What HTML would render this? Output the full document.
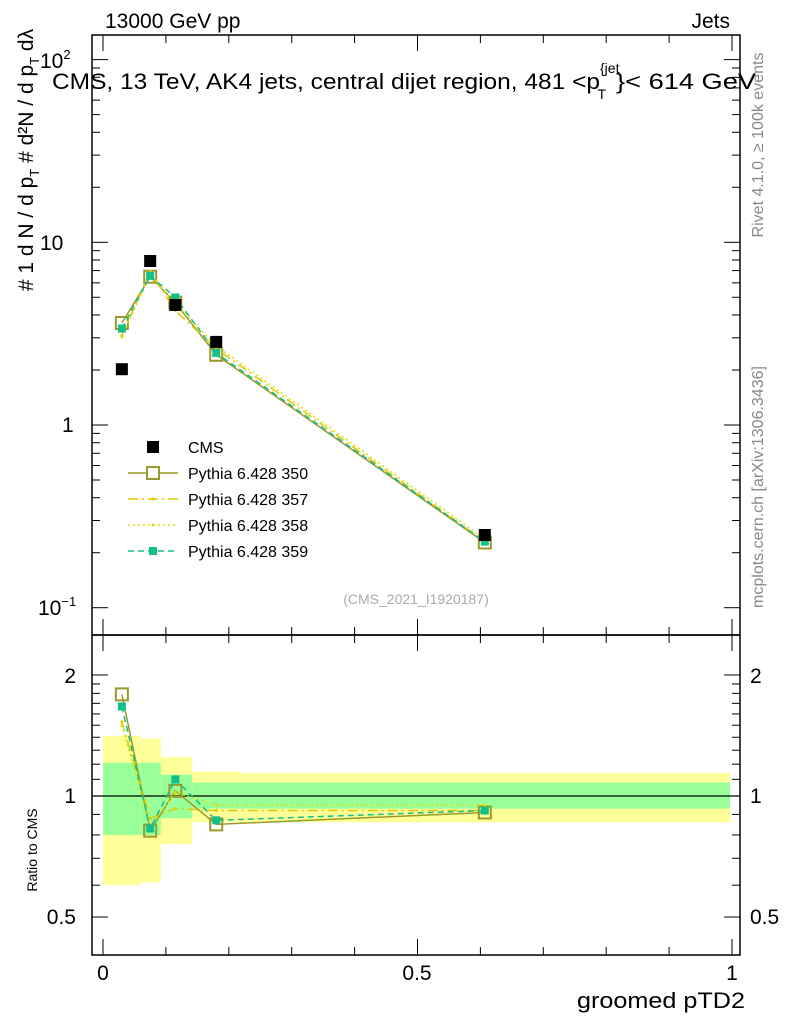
<!DOCTYPE html>
<html><head><meta charset="utf-8"><style>
body{margin:0;background:#fff;}
svg{font-family:"Liberation Sans",sans-serif;}
</style></head><body>
<svg id="c" width="786" height="1024" viewBox="0 0 786 1024" xmlns="http://www.w3.org/2000/svg">
<text x="105" y="28" font-size="21">13000 GeV pp</text>
<text x="730" y="28" font-size="21" text-anchor="end">Jets</text>
<text x="52" y="89" font-size="22"><tspan textLength="548" lengthAdjust="spacingAndGlyphs">CMS, 13 TeV, AK4 jets, central dijet region, 481 &lt;p</tspan><tspan font-size="14" dy="-16">{jet</tspan><tspan font-size="14" dx="-22" dy="26">T</tspan><tspan dy="-10" dx="10" textLength="140" lengthAdjust="spacingAndGlyphs">}&lt; 614 GeV</tspan></text>
<g id="bands"></g>
<rect x="92" y="35" width="648" height="600" fill="none" stroke="#000" stroke-width="1.5"/>
<rect x="92" y="635" width="648" height="320" fill="none" stroke="#000" stroke-width="1.5"/>
<g id="ticks"></g>
<g id="series"></g>
<text x="750" y="803" font-size="21">1</text>
<text x="750" y="683" font-size="21">2</text>
<text x="750" y="924" font-size="21">0.5</text>
<text x="76" y="683" font-size="21" text-anchor="end">2</text>
<text x="76" y="803" font-size="21" text-anchor="end">1</text>
<text x="76" y="924" font-size="21" text-anchor="end">0.5</text>
<text x="40" y="250" font-size="21">10</text>
<text x="62" y="432" font-size="21">1</text>
<text x="38" y="615" font-size="21">10<tspan font-size="13" dy="-9">−1</tspan></text>
<text x="40" y="68" font-size="21">10<tspan font-size="13" dy="-9">2</tspan></text>
<text x="103" y="980" font-size="21" text-anchor="middle">0</text>
<text x="417" y="980" font-size="21" text-anchor="middle">0.5</text>
<text x="732" y="980" font-size="21" text-anchor="middle">1</text>
<text x="745" y="1008" font-size="22" text-anchor="end" textLength="168" lengthAdjust="spacingAndGlyphs">groomed pTD2</text>
<text transform="translate(37,850) rotate(-90)" font-size="14" text-anchor="middle">Ratio to CMS</text>
<text transform="translate(33,160) rotate(-90)" font-size="21" text-anchor="middle">#  1  d N / d p<tspan font-size="13" dy="6">T</tspan><tspan dy="-6"> # d²N / d p</tspan><tspan font-size="13" dy="6">T</tspan><tspan dy="-6"> dλ</tspan></text>
<text transform="translate(763,145) rotate(-90)" font-size="16" fill="#888" text-anchor="middle">Rivet 4.1.0, ≥ 100k events</text>
<text transform="translate(763,487) rotate(-90)" font-size="16" fill="#888" text-anchor="middle">mcplots.cern.ch [arXiv:1306.3436]</text>
<text x="416" y="604" font-size="14" fill="#aaa" text-anchor="middle">(CMS_2021_I1920187)</text>
<g id="legend"></g>
</svg>
<script>
const xVals=[0.03,0.075,0.115,0.18,0.607];
const binEdges=[0,0.06,0.092,0.142,0.22,1.0];
const cms=[2.02,7.9,4.54,2.85,0.25];
const r350=[1.79,0.82,1.03,0.85,0.91];
const r357=[1.53,0.88,0.93,0.92,0.92];
const r358=[1.50,0.84,1.02,0.95,0.95];
const r359=[1.67,0.83,1.10,0.87,0.92];
const yelLo=[0.60,0.61,0.76,0.86,0.86];
const yelHi=[1.41,1.39,1.25,1.15,1.14];
const grnLo=[0.80,0.80,0.88,0.93,0.93];
const grnHi=[1.21,1.21,1.13,1.08,1.08];
const NS='http://www.w3.org/2000/svg';
const X=v=>103+629*v;
const Y=v=>425-182.7*Math.log10(v);
const R=v=>796-402*Math.log10(v);
function mk(p,t,a){const e=document.createElementNS(NS,t);for(const k in a)e.setAttribute(k,a[k]);document.getElementById(p).appendChild(e);return e;}
for(let i=0;i<5;i++){
 const x0=X(binEdges[i]),x1=Math.min(X(binEdges[i+1]),730);
 let e=mk('bands','rect',{x:x0,y:R(yelHi[i]),width:x1-x0,height:R(yelLo[i])-R(yelHi[i]),fill:'#ffff99'});
 
 
 e=mk('bands','rect',{x:x0,y:R(grnHi[i]),width:x1-x0,height:R(grnLo[i])-R(grnHi[i]),fill:'#99ff99'});
 
 
}
let ln=mk('bands','line',{x1:92,x2:740,y1:R(1),y2:R(1),stroke:'#000','stroke-width':1.3});


for(let d=-1;d<=2;d++){for(let m=1;m<10;m++){const v=m*Math.pow(10,d);const y=Y(v);if(y<36||y>634)continue;const L=m==1?16:8;
 mk('ticks','line',{x1:92,x2:92+L,y1:y,y2:y,stroke:'#000'});mk('ticks','line',{x1:740,x2:740-L,y1:y,y2:y,stroke:'#000'});}}
[0.5,0.6,0.7,0.8,0.9,1,1.1,1.2,1.3,1.4,1.5,1.6,1.7,1.8,1.9,2].forEach(v=>{const y=R(v);const L=(v==0.5||v==1||v==2)?16:8;
 mk('ticks','line',{x1:92,x2:92+L,y1:y,y2:y,stroke:'#000'});mk('ticks','line',{x1:740,x2:740-L,y1:y,y2:y,stroke:'#000'});});
for(let i=0;i<=10;i++){const v=i/10;const x=X(v);const L=i%5==0?16:8;
 mk('ticks','line',{x1:x,x2:x,y1:35,y2:35+L,stroke:'#000'});mk('ticks','line',{x1:x,x2:x,y1:635,y2:635-L,stroke:'#000'});mk('ticks','line',{x1:x,x2:x,y1:635,y2:635+L,stroke:'#000'});mk('ticks','line',{x1:x,x2:x,y1:955,y2:955-L,stroke:'#000'});}
const sers=[
 {r:r350,c:'#9a9a2a',dash:'',name:'pythia-350'},
 {r:r357,c:'#e0c800',dash:'10,4,2,4',name:'pythia-357'},
 {r:r358,c:'#dddd00',dash:'2,3',name:'pythia-358'},
 {r:r359,c:'#13c08a',dash:'6,4',name:'pythia-359'}];
sers.forEach(s=>{
 const mp=xVals.map((x,i)=>X(x)+','+Y(cms[i]*s.r[i])).join(' ');
 let p=mk('series','polyline',{points:mp,fill:'none',stroke:s.c,'stroke-width':1.5,'stroke-dasharray':s.dash});
 
 
 const rp=xVals.map((x,i)=>X(x)+','+R(s.r[i])).join(' ');
 p=mk('series','polyline',{points:rp,fill:'none',stroke:s.c,'stroke-width':1.5,'stroke-dasharray':s.dash});
 
 
 xVals.forEach((x,i)=>{
  [[Y(cms[i]*s.r[i])],[R(s.r[i])]].forEach(([y])=>{
   let m;
   if(s.name=='pythia-350'){m=mk('series','rect',{x:X(x)-6,y:y-6,width:12,height:12,fill:'none',stroke:s.c,'stroke-width':2});}
   else if(s.name=='pythia-359'){m=mk('series','rect',{x:X(x)-4,y:y-4,width:8,height:8,fill:s.c});}
   else {m=mk('series','circle',{cx:X(x),cy:y,r:1.5,fill:s.c});}
   
   
  });
 });
});
xVals.forEach((x,i)=>{
 const m=mk('series','rect',{x:X(x)-6,y:Y(cms[i])-6,width:12,height:12,fill:'#000'});
 
 
});
const legNames=['CMS','Pythia 6.428 350','Pythia 6.428 357','Pythia 6.428 358','Pythia 6.428 359'];
legNames.forEach((n,i)=>{
 const y=447+26*i;
 const t=mk('legend','text',{x:188,y:y+6,'font-size':16});t.textContent=n;
 
 
 if(i==0){mk('legend','rect',{x:147,y:y-6,width:12,height:12,fill:'#000'});}
 else{const s=sers[i-1];mk('legend','line',{x1:128,x2:178,y1:y,y2:y,stroke:s.c,'stroke-width':1.5,'stroke-dasharray':s.dash});
  if(i==1)mk('legend','rect',{x:147,y:y-6,width:12,height:12,fill:'#fff',stroke:s.c,'stroke-width':2});
  else if(i==4)mk('legend','rect',{x:149,y:y-4,width:8,height:8,fill:s.c});
  else mk('legend','circle',{cx:153,cy:y,r:1.5,fill:s.c});}
});
</script>
</body></html>
